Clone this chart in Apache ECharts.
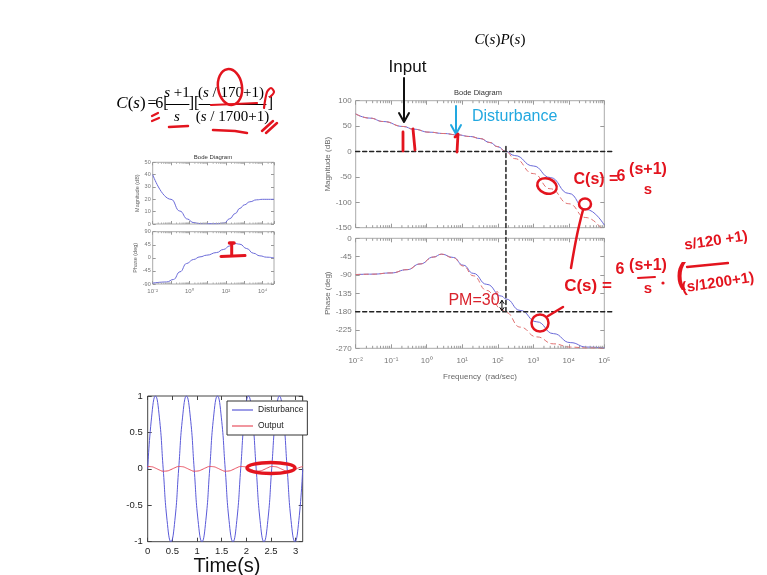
<!DOCTYPE html>
<html><head><meta charset="utf-8">
<script src="https://cdn.jsdelivr.net/npm/echarts@6/dist/echarts.min.js"></script>
<style>html,body{margin:0;padding:0;background:#fff;}#c{width:767px;height:575px;}</style>
</head><body><div id="c"></div>
<script>
// ================= DATA =================
// Big Bode diagram of C(s)P(s): blue = with lead, red dashed = PI only
const bodeFreq     = [0.01, 0.025, 0.06, 0.22, 0.42, 1.2, 3, 7, 17, 32, 60, 100, 170, 300, 1000, 3000, 10000, 30000, 100000];
const bodeMagLead  = [74, 65.7, 59, 49.2, 44, 38, 35.4, 32.9, 29.5, 25.5, 17.7, 9.5, 0, -8, -28.5, -51.3, -82.5, -113.7, -145];
const bodeMagPI    = [74, 65.7, 59, 49.2, 44, 38, 35.4, 32.9, 29.5, 25.5, 17.7, 9.5, 0, -14, -43.5, -73.3, -102.8, -130, -160];
const phaseFreq    = [0.01, 0.03, 0.1, 0.28, 0.65, 1.55, 2.6, 5.6, 10.7, 20.4, 49, 129, 170, 427, 1260, 3700, 11000, 32000, 100000];
const bodePhaseLead= [-89, -88, -85, -77, -63, -46, -39, -47, -66, -86, -113, -142, -149, -177, -205, -234, -256, -267, -269];
const bodePhasePI  = [-89, -88, -85, -77, -63, -46, -39, -48, -68, -92, -128, -174, -182, -218, -242, -259, -267, -269, -270];
// Small Bode diagram of the controller
const ctrlMagFreq  = [0.01, 0.1, 0.3, 0.8, 1.6, 4, 30, 80, 160, 320, 575, 1000, 2000, 4700, 10000, 41700];
const ctrlMag      = [40, 20, 10.5, 4, 1.2, 0.3, 0.2, 0.8, 4.3, 8.5, 12.7, 15.5, 18, 19.6, 20, 20];
const ctrlPhaseFreq= [0.01, 0.058, 0.135, 0.31, 0.71, 1.66, 3.8, 8.9, 31, 71, 166, 309, 575, 1350, 3100, 7100, 16600, 41700];
const ctrlPhase    = [-87, -83, -74.5, -48, -19.5, -5.7, 3.4, 9.2, 18.3, 28.7, 41.3, 49.3, 47, 32, 16, 6.9, 2.3, 0];
// Time response
const timeS = [0, 0.079, 0.157, 0.236, 0.314, 0.393, 0.471, 0.55, 0.628, 0.707, 0.785, 0.864, 0.942, 1.021, 1.1, 1.178,
  1.257, 1.335, 1.414, 1.492, 1.571, 1.649, 1.728, 1.806, 1.885, 1.963, 2.042, 2.121, 2.199, 2.278, 2.356, 2.435,
  2.513, 2.592, 2.67, 2.749, 2.827, 2.906, 2.985, 3.063, 3.142];
const disturbance = [0, 0.71, 1, 0.71, 0, -0.71, -1, -0.71, 0, 0.71, 1, 0.71, 0, -0.71, -1, -0.71,
  0, 0.71, 1, 0.71, 0, -0.71, -1, -0.71, 0, 0.71, 1, 0.71, 0, -0.71, -1, -0.71,
  0, 0.71, 1, 0.71, 0, -0.71, -1, -0.71, 0];
const outputResp = [0.032, 0.029, 0.010, -0.015, -0.032, -0.029, -0.010, 0.015, 0.032, 0.029, 0.010, -0.015, -0.032, -0.029, -0.010, 0.015,
  0.032, 0.029, 0.010, -0.015, -0.032, -0.029, -0.010, 0.015, 0.032, 0.029, 0.010, -0.015, -0.032, -0.029, -0.010, 0.015,
  0.032, 0.029, 0.010, -0.015, -0.032, -0.029, -0.010, 0.015, 0.032];
// Axis ranges / annotation values
const bodeFreqRange = [0.01, 100000];
const magRange = [-150, 100, 50];
const phaseRange = [-270, 0, 45];
const ctrlFreqRange = [0.01, 41700];
const ctrlMagRange = [0, 50, 10];
const ctrlPhaseRange = [-90, 90, 45];
const timeRange = [0, 3.1416, 0.5];
const respRange = [-1, 1, 0.5];
const minorMultipliers = [2, 3, 4, 5, 6, 7, 8, 9];
const crossoverFreq = 170;
const marginPhase = -150;

// ================= CHART =================
const chart = echarts.init(document.getElementById('c'), null, {renderer: 'canvas', width: 767, height: 575});
const SANS = '"Liberation Sans", Arial, sans-serif';
const NARROW = '"Liberation Sans Narrow", "Liberation Sans", sans-serif';
const SERIF = '"Liberation Serif", "DejaVu Serif", serif';
const BLUE = '#6a6ad8', REDL = '#e07070', RED = '#e3141e', CYAN = '#22a8e0';
const SUP = {'-': '⁻', '0': '⁰', '1': '¹', '2': '²', '3': '³', '4': '⁴', '5': '⁵'};
const decadeLabel = (v, onlyEven) => {
  const l = Math.log10(v), e = Math.round(l);
  if (Math.abs(l - e) > 1e-6) return '';
  if (onlyEven && e % 2 !== 0) return '';
  return '10' + String(e).split('').map(c => SUP[c]).join('');
};
const zip = (a, b) => a.map((v, i) => [v, b[i]]);

function xLog(grid, range, opts) {
  const top = opts.top;
  return Object.assign({
    type: 'log', logBase: 10, gridIndex: grid, min: range[0], max: range[1], splitNumber: 7,
    position: top ? 'top' : 'bottom',
    axisLine: {show: false, onZero: false}, splitLine: {show: false},
    axisTick: {show: true, inside: true, length: opts.tickLen || 4, lineStyle: {color: opts.tickColor || '#999'}},
    axisLabel: {show: !!opts.labels, fontSize: opts.fontSize || 8, color: '#777', margin: opts.margin || 6, fontFamily: SANS,
      formatter: v => decadeLabel(v, opts.even)}
  }, opts.extra || {});
}
function yVal(grid, range, opts) {
  return Object.assign({
    type: 'value', gridIndex: grid, min: range[0], max: range[1], interval: range[2],
    position: opts.right ? 'right' : 'left',
    axisLine: {show: false, onZero: false}, splitLine: {show: false},
    axisTick: {show: true, inside: true, length: opts.tickLen || 4, lineStyle: {color: opts.tickColor || '#999'}},
    axisLabel: {show: !opts.right, fontSize: opts.fontSize || 8, color: opts.labelColor || '#777', margin: opts.margin || 4, fontFamily: SANS}
  }, opts.extra || {});
}
function minorTickSeries(xi, yi, range, yr, len, color) {
  const vals = [];
  const lo = Math.round(Math.log10(range[0])), hi = Math.ceil(Math.log10(range[1]));
  for (let e = lo; e < hi; e++) for (const m of minorMultipliers) {
    const v = m * Math.pow(10, e);
    if (v < range[1]) vals.push([v, yr[0]]);
  }
  return {
    type: 'custom', xAxisIndex: xi, yAxisIndex: yi, silent: true, clip: false, z: 5,
    data: vals, encode: {x: 0, y: 1},
    renderItem: (params, api) => {
      const b = api.coord([api.value(0), yr[0]]);
      const t = api.coord([api.value(0), yr[1]]);
      return {type: 'group', children: [
        {type: 'line', shape: {x1: b[0], y1: b[1], x2: b[0], y2: b[1] - len}, style: {stroke: color, lineWidth: 1}},
        {type: 'line', shape: {x1: t[0], y1: t[1], x2: t[0], y2: t[1] + len}, style: {stroke: color, lineWidth: 1}}
      ]};
    }
  };
}
const nameStyle = (fs) => ({fontSize: fs, color: '#666', fontFamily: SANS});

const option = {
  backgroundColor: '#fff',
  animation: false,
  grid: [
    {left: 355.7, top: 100.7, width: 248.6, height: 127, show: true, borderColor: '#aaa', borderWidth: 1},
    {left: 355.7, top: 238.3, width: 248.6, height: 110, show: true, borderColor: '#aaa', borderWidth: 1},
    {left: 152.7, top: 162.3, width: 121.3, height: 61.7, show: true, borderColor: '#aaa', borderWidth: 1},
    {left: 152.7, top: 231.7, width: 121.3, height: 52.3, show: true, borderColor: '#aaa', borderWidth: 1},
    {left: 147.7, top: 396, width: 155, height: 145.7, show: true, borderColor: '#444', borderWidth: 1}
  ],
  xAxis: [
    xLog(0, bodeFreqRange, {}),
    xLog(0, bodeFreqRange, {top: true}),
    xLog(1, bodeFreqRange, {labels: true, margin: 8, extra: {name: 'Frequency  (rad/sec)', nameLocation: 'middle', nameGap: 24, nameTextStyle: nameStyle(8)}}),
    xLog(1, bodeFreqRange, {top: true}),
    xLog(2, ctrlFreqRange, {tickLen: 3}),
    xLog(2, ctrlFreqRange, {top: true, tickLen: 3}),
    xLog(3, ctrlFreqRange, {labels: true, even: true, fontSize: 6, margin: 4, tickLen: 3}),
    xLog(3, ctrlFreqRange, {top: true, tickLen: 3}),
    {type: 'value', gridIndex: 4, min: timeRange[0], max: timeRange[1], interval: timeRange[2],
      axisLine: {show: false, onZero: false}, splitLine: {show: false},
      axisTick: {show: true, inside: true, length: 4, lineStyle: {color: '#444'}},
      axisLabel: {fontSize: 9.5, color: '#222', margin: 5, fontFamily: SANS, showMaxLabel: false}},
    {type: 'value', gridIndex: 4, position: 'top', min: timeRange[0], max: timeRange[1], interval: timeRange[2],
      axisLine: {show: false, onZero: false}, splitLine: {show: false}, axisLabel: {show: false},
      axisTick: {show: true, inside: true, length: 4, lineStyle: {color: '#444'}}}
  ],
  yAxis: [
    yVal(0, magRange, {extra: {name: 'Magnitude (dB)', nameLocation: 'middle', nameGap: 24, nameRotate: 90, nameTextStyle: nameStyle(8)}}),
    yVal(0, magRange, {right: true}),
    yVal(1, phaseRange, {extra: {name: 'Phase (deg)', nameLocation: 'middle', nameGap: 24, nameRotate: 90, nameTextStyle: nameStyle(8)}}),
    yVal(1, phaseRange, {right: true}),
    yVal(2, ctrlMagRange, {fontSize: 5.5, margin: 2, tickLen: 3, extra: {name: 'Magnitude (dB)', nameLocation: 'middle', nameGap: 11, nameRotate: 90, nameTextStyle: nameStyle(5.5)}}),
    yVal(2, ctrlMagRange, {right: true, tickLen: 3}),
    yVal(3, ctrlPhaseRange, {fontSize: 5.5, margin: 2, tickLen: 3, extra: {name: 'Phase (deg)', nameLocation: 'middle', nameGap: 12, nameRotate: 90, nameTextStyle: nameStyle(5.5)}}),
    yVal(3, ctrlPhaseRange, {right: true, tickLen: 3}),
    yVal(4, respRange, {fontSize: 9.5, labelColor: '#222', margin: 5, tickColor: '#444'}),
    yVal(4, respRange, {right: true, tickColor: '#444'})
  ],
  legend: {
    data: ['Disturbance', 'Output'], left: 227, top: 401, orient: 'vertical',
    icon: 'rect', itemWidth: 21, itemHeight: 1.2, itemGap: 6, padding: [4, 4, 4, 5],
    borderColor: '#333', borderWidth: 1, backgroundColor: '#fff',
    textStyle: {fontSize: 8.5, color: '#222', fontFamily: SANS, lineHeight: 10}
  },
  series: [
    {type: 'line', name: 'mag lead', xAxisIndex: 0, yAxisIndex: 0, data: zip(bodeFreq, bodeMagLead), symbol: 'none', smooth: true, smoothMonotone: 'x', lineStyle: {color: BLUE, width: 1}, z: 3},
    {type: 'line', name: 'mag pi', xAxisIndex: 0, yAxisIndex: 0, data: zip(bodeFreq, bodeMagPI), symbol: 'none', smooth: true, smoothMonotone: 'x', lineStyle: {color: REDL, width: 1, type: [5, 3]}, z: 4},
    {type: 'line', name: 'ph lead', xAxisIndex: 2, yAxisIndex: 2, data: zip(phaseFreq, bodePhaseLead), symbol: 'none', smooth: true, smoothMonotone: 'x', lineStyle: {color: BLUE, width: 1}, z: 3},
    {type: 'line', name: 'ph pi', xAxisIndex: 2, yAxisIndex: 2, data: zip(phaseFreq, bodePhasePI), symbol: 'none', smooth: true, smoothMonotone: 'x', lineStyle: {color: REDL, width: 1, type: [5, 3]}, z: 4},
    {type: 'line', name: 'ctrl mag', xAxisIndex: 4, yAxisIndex: 4, data: zip(ctrlMagFreq, ctrlMag), symbol: 'none', smooth: true, smoothMonotone: 'x', lineStyle: {color: BLUE, width: 1}},
    {type: 'line', name: 'ctrl ph', xAxisIndex: 6, yAxisIndex: 6, data: zip(ctrlPhaseFreq, ctrlPhase), symbol: 'none', smooth: true, smoothMonotone: 'x', lineStyle: {color: BLUE, width: 1}},
    {type: 'line', name: 'Disturbance', xAxisIndex: 8, yAxisIndex: 8, data: zip(timeS, disturbance), symbol: 'none', smooth: true, lineStyle: {color: '#5a5ad8', width: 1}, itemStyle: {color: '#5a5ad8'}},
    {type: 'line', name: 'Output', xAxisIndex: 8, yAxisIndex: 8, data: zip(timeS, outputResp), symbol: 'none', smooth: true, lineStyle: {color: '#e85060', width: 1}, itemStyle: {color: '#e85060'}},
    minorTickSeries(0, 0, bodeFreqRange, magRange, 2.5, '#999'),
    minorTickSeries(2, 2, bodeFreqRange, phaseRange, 2.5, '#999'),
    minorTickSeries(4, 4, ctrlFreqRange, ctrlMagRange, 1.5, '#aaa'),
    minorTickSeries(6, 6, ctrlFreqRange, ctrlPhaseRange, 1.5, '#aaa')
  ]
};
chart.setOption(option);

// ================= ANNOTATIONS =================
const px = (xi, yi, pt) => chart.convertToPixel({xAxisIndex: xi, yAxisIndex: yi}, pt);
const txt = (s, x, y, st, rot) => ({type: 'text', x, y, rotation: rot || 0, z: 100,
  style: Object.assign({text: s, fill: '#000', fontSize: 12, fontFamily: SANS, align: 'center', verticalAlign: 'middle'}, st || {})});
const line = (pts, color, w, dash) => ({type: 'polyline', z: 100, shape: {points: pts},
  style: {stroke: color, lineWidth: w, fill: null, lineDash: dash || null, lineCap: 'round', lineJoin: 'round'}});
const hand = (pts, w, smooth) => ({type: 'polyline', z: 101, shape: {points: pts, smooth: smooth || 0},
  style: {stroke: RED, lineWidth: w || 2.8, fill: null, lineCap: 'round', lineJoin: 'round'}});
const ell = (cx, cy, rx, ry, rot, w) => ({type: 'ellipse', x: cx, y: cy, rotation: rot || 0, z: 101,
  shape: {cx: 0, cy: 0, rx, ry}, style: {stroke: RED, fill: null, lineWidth: w || 2.5}});
const handTxt = (s, x, y, fs, rot) => txt(s, x, y, {fill: RED, fontSize: fs, fontFamily: NARROW, fontWeight: 'bold'}, rot);
const mathStyle = (fs) => ({fontSize: fs, fontFamily: SERIF, rich: {i: {fontStyle: 'italic', fontSize: fs, fontFamily: SERIF}}});

const g = [];
// Formula
g.push(txt('{i|C}({i|s})', 131, 104, mathStyle(17)));
g.push(txt('=', 152, 104, {fontSize: 16, fontFamily: SERIF}));
g.push(txt('6[', 162, 104, {fontSize: 16, fontFamily: SERIF}));
g.push(txt('{i|s} +1', 177, 93, mathStyle(15)));
g.push(line([[166, 104.5], [189, 104.5]], '#000', 1));
g.push(txt('{i|s}', 177, 117, mathStyle(15)));
g.push(txt('][', 194, 104, {fontSize: 16, fontFamily: SERIF}));
g.push(txt('({i|s} / 170+1)', 231, 93, mathStyle(15)));
g.push(line([[199, 104.5], [266, 104.5]], '#000', 1));
g.push(txt('({i|s} / 1700+1)', 232.5, 117, mathStyle(15)));
g.push(txt(']', 270.5, 104, {fontSize: 16, fontFamily: SERIF}));
g.push(txt('{i|C}({i|s}){i|P}({i|s})', 500, 40, mathStyle(15)));
// Formula hand marks
g.push(ell(230, 87, 12, 18, 0.15, 2.5));
g.push(hand([[211, 105], [235, 104], [257, 103]], 2.2));
g.push(hand([[264, 108], [267, 92], [271, 88], [274, 92], [270, 97]], 2.2, 0.3));
g.push(hand([[262, 131], [273, 121]], 2.5));
g.push(hand([[266, 133], [277, 123]], 2.5));
g.push(hand([[152, 116], [158, 113]], 2.2));
g.push(hand([[152, 121], [159, 118]], 2.2));
g.push(hand([[169, 127], [188, 126]], 2.5));
g.push(hand([[213, 130], [235, 131], [247, 133]], 2.5));

// Small bode title + mark
g.push(txt('Bode Diagram', 213, 157.5, {fontSize: 6, fill: '#333'}));
g.push(hand([[231.7, 244], [231.7, 255]], 3));
g.push(hand([[229.5, 243], [234, 243]], 3.5));
g.push(hand([[221, 256.5], [245, 255.5]], 3));

// Big bode title
g.push(txt('Bode Diagram', 478, 93, {fontSize: 7.5, fill: '#333'}));

// Dashed reference lines computed through the axes
const zl = px(0, 0, [bodeFreqRange[0], 0]), zr = px(0, 0, [bodeFreqRange[1], 0]);
const ml = px(2, 2, [bodeFreqRange[0], -180]), mr = px(2, 2, [bodeFreqRange[1], -180]);
const cz = px(0, 0, [crossoverFreq, 0]);
const c180 = px(2, 2, [crossoverFreq, -180]);
const cpm = px(2, 2, [crossoverFreq, marginPhase]);
g.push(line([[zl[0], zl[1]], [zr[0] + 9, zr[1]]], '#222', 1.5, [4, 3]));
g.push(line([[ml[0], ml[1]], [mr[0] + 9, mr[1]]], '#222', 1.5, [4, 3]));
g.push(line([[cz[0], cz[1] - 5], [c180[0], c180[1]]], '#222', 1.5, [4, 3]));
// PM double arrow
const ax = cpm[0] - 4;
g.push(line([[ax, cpm[1] + 1], [ax, c180[1] - 1]], '#000', 1));
g.push(line([[ax - 2, cpm[1] + 4], [ax, cpm[1] + 1], [ax + 2, cpm[1] + 4]], '#000', 1));
g.push(line([[ax - 2, c180[1] - 4], [ax, c180[1] - 1], [ax + 2, c180[1] - 4]], '#000', 1));
g.push(txt('PM=30', 474, 301, {fill: '#d9232d', fontSize: 16, fontFamily: NARROW}));
g.push(txt('°', 497, 296, {fill: '#d9232d', fontSize: 9, fontFamily: NARROW}));

// Input arrow
g.push(txt('Input', 407.5, 67, {fontSize: 17, fontFamily: NARROW, fill: '#111'}));
g.push(line([[404, 78], [404, 121]], '#111', 2));
g.push(line([[399, 113], [404, 122], [409, 113]], '#111', 2));
// Disturbance arrow
g.push(txt('Disturbance', 472, 117, {fontSize: 16, fontFamily: NARROW, fill: CYAN, align: 'left'}));
g.push(line([[456, 106], [456, 133]], CYAN, 2));
g.push(line([[451, 125], [456, 134], [461, 125]], CYAN, 2));
// Red strokes on magnitude
g.push(hand([[403, 132], [403, 151]], 2.8));
g.push(hand([[413, 129], [415, 150]], 2.8));
g.push(hand([[455, 137], [458, 134], [457, 152]], 2.8));
// Circles / handwritten formulas
g.push(ell(547, 186, 10, 7.5, -0.35, 2.5));
g.push(ell(585, 204, 6, 5.5, 0, 2.5));
g.push(hand([[583, 210], [577, 235], [571, 268]], 2.5, 0.4));
g.push(handTxt('C(s) =', 596, 180, 16));
g.push(handTxt('6', 621, 177, 16));
g.push(handTxt('(s+1)', 648, 170, 16));
g.push(handTxt('s', 648, 190, 15));
g.push(handTxt('C(s) =', 588, 286, 17));
g.push(handTxt('6', 620, 270, 16));
g.push(handTxt('(s+1)', 648, 266, 16));
g.push(hand([[638, 278], [655, 277]], 2));
g.push(handTxt('s', 648, 289, 15));
g.push({type: 'circle', z: 101, shape: {cx: 663, cy: 283, r: 1.6}, style: {fill: RED}});
g.push(handTxt('(', 681, 276, 30));
g.push(handTxt('s/120 +1)', 716, 241, 15, 0.15));
g.push(hand([[687, 267], [728, 263]], 2.3));
g.push(handTxt('(s/1200+1)', 718, 283, 15, 0.15));
// Phase arrow + circle
g.push(hand([[563, 307], [548, 316]], 2.5));
g.push(ell(540, 323, 8.5, 8.5, 0, 2.5));
// Time plot
g.push(ell(271, 468, 24, 5.5, 0, 3.5));
g.push(txt('Time(s)', 227, 566, {fontSize: 20, fontFamily: NARROW, fill: '#111'}));

chart.setOption({graphic: {elements: g}});
</script>
</body></html>
